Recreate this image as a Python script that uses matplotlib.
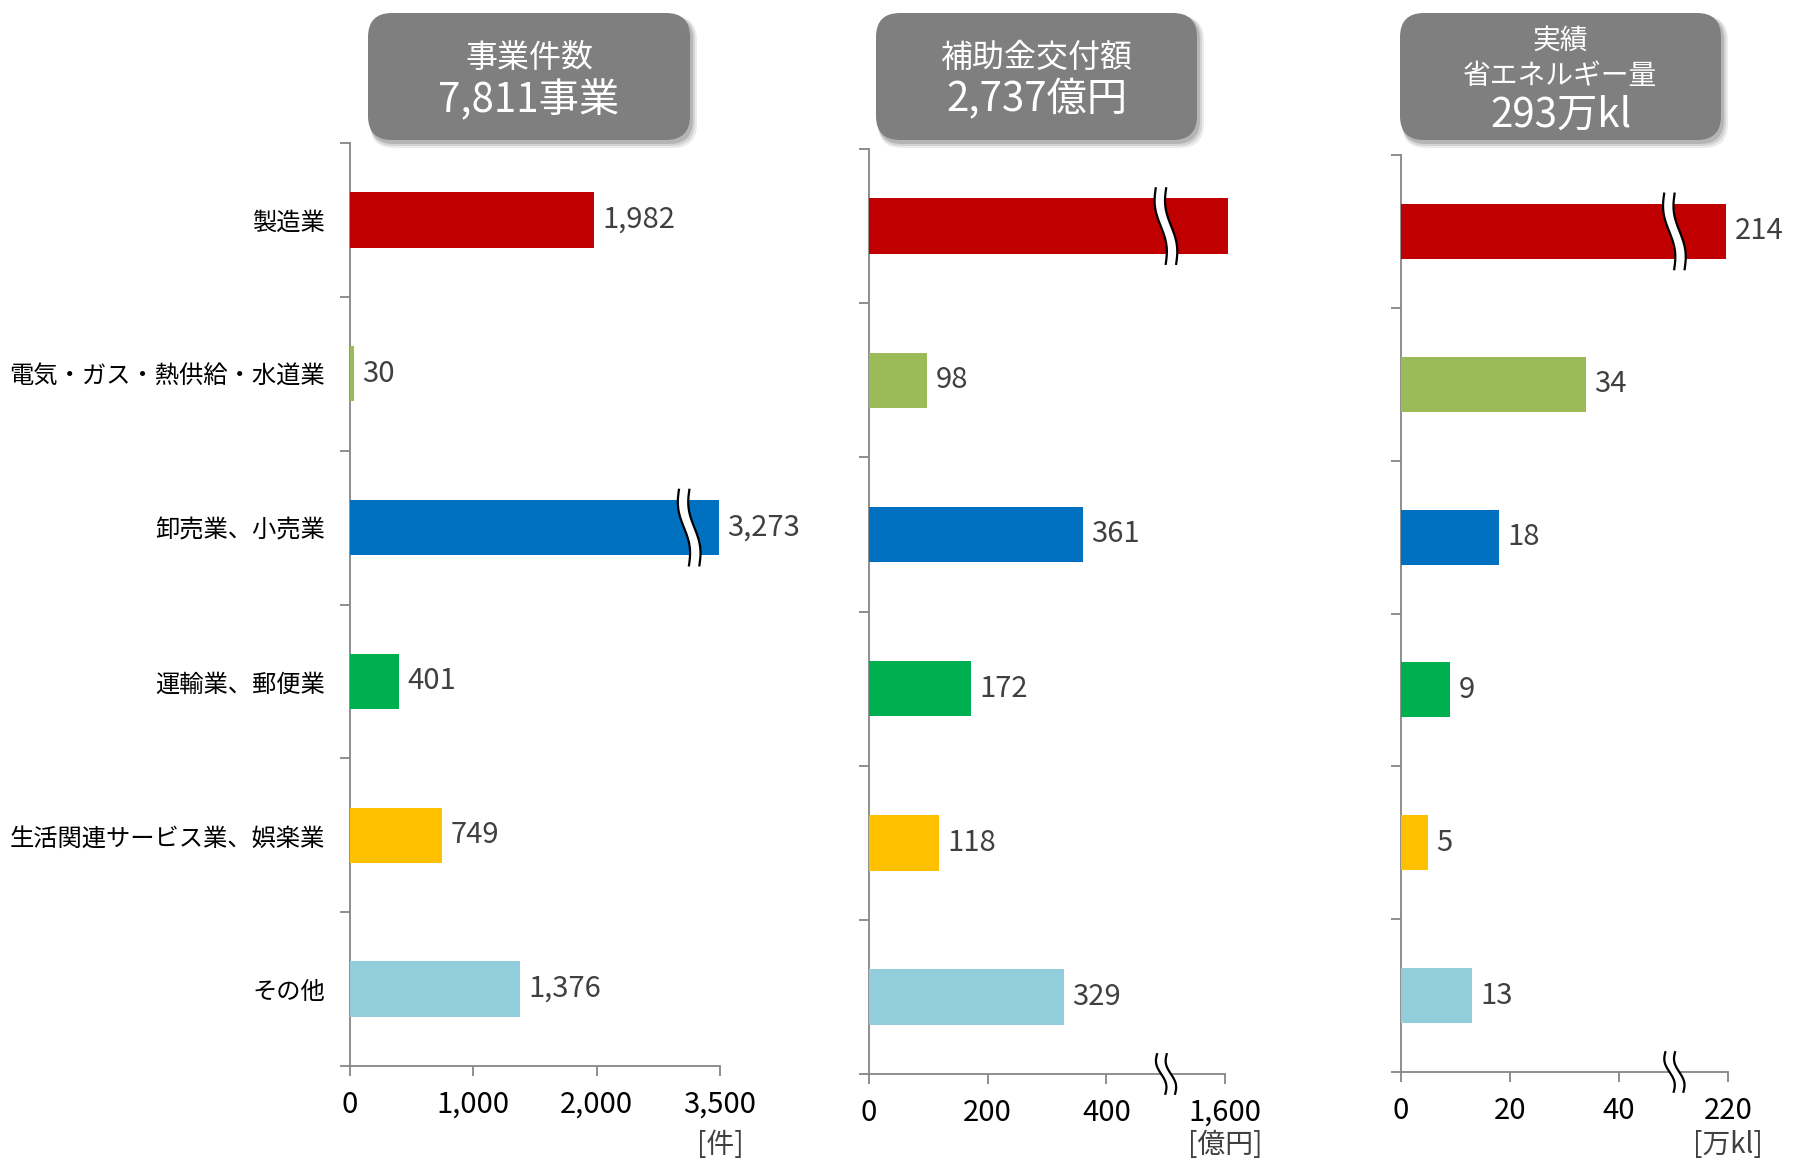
import numpy as np
import matplotlib
matplotlib.use("Agg")
import matplotlib.pyplot as plt
from matplotlib.patches import FancyBboxPatch, Polygon
from matplotlib.transforms import Affine2D, ScaledTranslation
from matplotlib.ticker import FixedLocator, NullFormatter, FuncFormatter

plt.rcParams['font.family'] = ['Noto Sans CJK JP', 'DejaVu Sans']

categories = ['製造業', '電気・ガス・熱供給・水道業', '卸売業、小売業',
              '運輸業、郵便業', '生活関連サービス業、娯楽業', 'その他']
bar_colors = ['#C00000', '#9BBB59', '#0070C0', '#00B050', '#FFC000', '#92CDDC']

counts = [1982, 30, 3273, 401, 749, 1376]
subsidy = [1659, 98, 361, 172, 118, 329]
energy = [214, 34, 18, 9, 5, 13]

count_ticks = [0, 1000, 2000, 3500]
subsidy_ticks = [0, 200, 400, 1600]
energy_ticks = [0, 20, 40, 220]

W, H = 1798, 1162
AXIS_GRAY = '#868686'
UNIT_Y = 1145  # pixel row of the unit labels


def broken_scale(a, top_val, top_pos):
    """Identity up to a, then compress [a, top_val] onto [a, top_pos]."""
    k = (top_pos - a) / (top_val - a)

    def fwd(x):
        x = np.asarray(x, dtype=float)
        return np.where(x <= a, x, a + (x - a) * k)

    def inv(y):
        y = np.asarray(y, dtype=float)
        return np.where(y <= a, y, a + (y - a) / k)

    return fwd, inv


def break_mark(fig, ax, x, y, half_h, gap=7.5, slant=3.5, amp=2.4):
    t = np.linspace(-1, 1, 60)
    xs = amp * np.sin(np.pi * t) + slant * t
    ys = -half_h * t
    left = np.column_stack([xs - gap / 2, ys])
    right = np.column_stack([xs + gap / 2, ys])
    tr = Affine2D().scale(fig.dpi / 72) + ScaledTranslation(x, y, ax.transData)
    ax.add_patch(Polygon(np.vstack([left, right[::-1]]), closed=True,
                         fc='white', ec='none', transform=tr,
                         clip_on=False, zorder=5))
    for side in (left, right):
        ax.plot(side[:, 0], side[:, 1], color='black', lw=1.6,
                transform=tr, clip_on=False, zorder=6, solid_capstyle='butt')


panels = [
    dict(values=counts, ticks=count_ticks, scale=(2980, 3500, 3000),
         rect=(350, 143, 720, 1066), unit='[件]', bar_break=2750,
         axis_break=None, box=(368, 13, 690, 140),
         title=[('事業件数', 23, 58), ('7,811事業', 29, 100)]),
    dict(values=subsidy, ticks=subsidy_ticks, scale=(500, 1600, 600),
         rect=(869, 149, 1225, 1074), unit='[億円]', bar_break=505,
         axis_break=507, box=(876, 13, 1197, 140),
         title=[('補助金交付額', 23, 58), ('2,737億円', 29, 100)]),
    dict(values=energy, ticks=energy_ticks, scale=(50, 220, 60),
         rect=(1401, 155, 1728, 1072), unit='[万kl]', bar_break=52.8,
         axis_break=52.8, box=(1400, 13, 1721, 140),
         title=[('実績', 20, 41), ('省エネルギー量', 20, 76),
                ('293万kl', 29, 115)]),
]

fig = plt.figure(figsize=(W / 100, H / 100), dpi=100)

y = np.arange(len(categories))
for n, p in enumerate(panels):
    x0, top, x1, bottom = p['rect']
    ax = fig.add_axes([x0 / W, (H - bottom) / H, (x1 - x0) / W, (bottom - top) / H])
    a, top_val, top_pos = p['scale']
    ax.set_xscale('function', functions=broken_scale(a, top_val, top_pos))
    ax.set_xlim(0, top_val)
    ax.set_ylim(len(categories) - 0.5, -0.5)

    ax.barh(y, p['values'], height=0.36, color=bar_colors, clip_on=False, zorder=3)
    for i, v in enumerate(p['values']):
        ax.annotate(f'{v:,}', (v, i), xytext=(6, 0), textcoords='offset points',
                    va='center', ha='left', fontsize=21, color='#404040')

    for s in ('top', 'right'):
        ax.spines[s].set_visible(False)
    for s in ('left', 'bottom'):
        ax.spines[s].set_color(AXIS_GRAY)
        ax.spines[s].set_linewidth(1.3)

    ax.xaxis.set_major_locator(FixedLocator(p['ticks']))
    ax.xaxis.set_minor_locator(FixedLocator([]))
    ax.xaxis.set_major_formatter(FuncFormatter(lambda v, _: f'{v:,.0f}'))
    ax.tick_params(axis='x', length=7, width=1.3, color=AXIS_GRAY,
                   labelsize=21, pad=10, direction='out')

    ax.yaxis.set_major_locator(FixedLocator(np.arange(-0.5, len(categories), 1.0)))
    ax.yaxis.set_major_formatter(NullFormatter())
    ax.tick_params(axis='y', which='major', length=7, width=1.3, color=AXIS_GRAY)
    ax.yaxis.set_minor_locator(FixedLocator(y))
    if n == 0:
        ax.yaxis.set_minor_formatter(FuncFormatter(lambda v, _: categories[int(round(v))]))
        ax.tick_params(axis='y', which='minor', length=0, labelsize=17.5, pad=18)
    else:
        ax.yaxis.set_minor_formatter(NullFormatter())
        ax.tick_params(axis='y', which='minor', length=0)

    big = int(np.argmax(p['values']))
    break_mark(fig, ax, p['bar_break'], big, 28)
    if p['axis_break'] is not None:
        break_mark(fig, ax, p['axis_break'], len(categories) - 0.5, 15,
                   gap=7, slant=2.8, amp=2.2)

    ax.annotate(p['unit'], (top_val, 0), xycoords=ax.get_xaxis_transform(),
                xytext=(0, -(UNIT_Y - bottom) * 0.72), textcoords='offset points',
                ha='center', va='center', fontsize=20, color='#404040')

# title boxes drawn on a pixel-based overlay
over = fig.add_axes([0, 0, 1, 1])
over.set_xlim(0, W)
over.set_ylim(H, 0)
over.axis('off')
over.patch.set_alpha(0)
for p in panels:
    bx0, by0, bx1, by1 = p['box']
    for k, al in ((7, 0.08), (5, 0.10), (3, 0.14)):
        over.add_patch(FancyBboxPatch((bx0 + 2, by0 + 3), bx1 - bx0 + k - 2, by1 - by0 + k - 2,
                                      boxstyle='round,pad=0,rounding_size=24',
                                      fc='black', ec='none', alpha=al))
    over.add_patch(FancyBboxPatch((bx0, by0), bx1 - bx0, by1 - by0,
                                  boxstyle='round,pad=0,rounding_size=24',
                                  fc='#7F7F7F', ec='none'))
    cx = (bx0 + bx1) / 2
    for txt, size, ty in p['title']:
        over.text(cx, ty, txt, ha='center', va='center', fontsize=size, color='white')

fig.savefig('out.png', dpi=100)
